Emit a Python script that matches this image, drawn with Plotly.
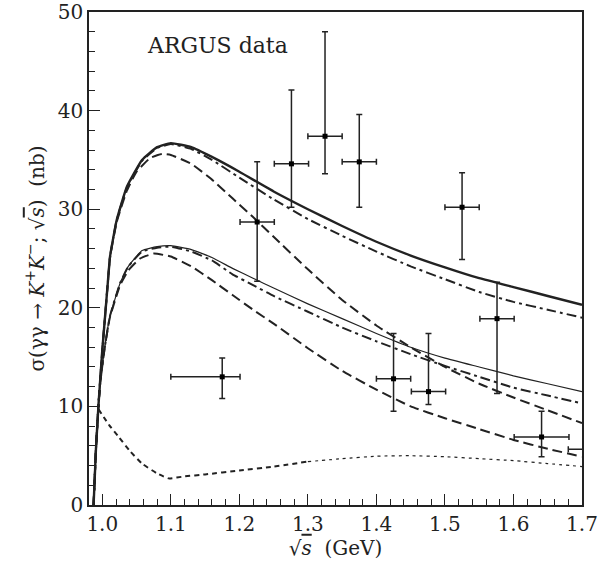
import plotly.graph_objects as go

# ARGUS data points
pt_x = [1.175, 1.226, 1.276, 1.325, 1.375, 1.425, 1.476, 1.525, 1.576, 1.641, 1.72]
pt_y = [13.0, 28.7, 34.6, 37.4, 34.8, 12.8, 11.5, 30.2, 18.9, 6.9, 5.65]
err_x_plus = [0.026, 0.025, 0.025, 0.025, 0.025, 0.025, 0.025, 0.025, 0.025, 0.04, 0.04]
err_x_minus = [0.075, 0.025, 0.025, 0.025, 0.025, 0.025, 0.025, 0.025, 0.025, 0.04, 0.04]
err_y_plus = [1.9, 6.1, 7.5, 10.6, 4.8, 4.6, 5.9, 3.5, 3.7, 2.6, 1.5]
err_y_minus = [2.2, 6.0, 4.4, 3.8, 4.6, 3.3, 1.3, 5.3, 7.6, 2.0, 1.5]

# upper group of curves
x_up = [0.9873, 0.9907, 0.9946, 1.0, 1.004, 1.008, 1.0113, 1.021, 1.036, 1.058, 1.08, 1.1,
        1.13, 1.16, 1.2, 1.25, 1.3, 1.35, 1.4, 1.45, 1.5, 1.55, 1.6, 1.65, 1.7]
solid_up = [0, 5.6, 10.3, 15.7, 19.1, 22.5, 25.2, 28.9, 32.3, 35.0, 36.3, 36.7,
            36.3, 35.3, 33.8, 31.8, 30.0, 28.3, 26.7, 25.3, 24.1, 23.0, 22.1, 21.2, 20.3]
dashdot_up = [0, 5.6, 10.3, 15.7, 19.1, 22.5, 25.2, 28.9, 32.2, 34.9, 36.2, 36.6,
              36.1, 35.0, 33.2, 31.0, 29.0, 27.3, 25.7, 24.2, 22.9, 21.6, 20.6, 19.8, 19.0]
x_up_dash = [0.9873, 0.9907, 0.9946, 1.0, 1.004, 1.008, 1.0113, 1.021, 1.036, 1.05, 1.07,
             1.087, 1.1, 1.13, 1.16, 1.19, 1.22, 1.25, 1.3, 1.35, 1.4, 1.45, 1.5, 1.55,
             1.6, 1.65, 1.7]
dash_up = [0, 5.6, 10.3, 15.7, 19.1, 22.5, 25.1, 28.7, 31.9, 33.8, 35.2, 35.6, 35.5,
           34.6, 33.0, 31.1, 29.2, 27.2, 23.9, 20.8, 18.2, 16.0, 14.0, 12.3, 10.9, 9.6, 8.3]

# lower group of curves
x_lo = [0.9873, 0.9907, 0.9946, 0.997, 1.003, 1.011, 1.026, 1.038, 1.058, 1.08, 1.1,
        1.13, 1.16, 1.19, 1.22, 1.25, 1.3, 1.35, 1.4, 1.45, 1.5, 1.55, 1.6, 1.65, 1.7]
solid_lo = [0, 5.6, 10.3, 12.4, 15.7, 19.1, 22.5, 24.2, 25.8, 26.2, 26.3,
            25.9, 25.1, 24.0, 23.0, 22.0, 20.4, 18.9, 17.4, 16.0, 14.9, 14.0, 13.1, 12.3, 11.5]
dashdot_lo = [0, 5.6, 10.3, 12.4, 15.7, 19.1, 22.5, 24.2, 25.7, 26.1, 26.2,
              25.7, 24.8, 23.4, 22.3, 21.2, 19.6, 18.0, 16.6, 15.3, 14.1, 13.0, 11.9, 11.1, 10.3]
x_lo_dash = [0.9873, 0.9907, 0.9946, 0.997, 1.003, 1.011, 1.026, 1.038, 1.055, 1.075, 1.1,
             1.13, 1.16, 1.19, 1.22, 1.25, 1.3, 1.35, 1.4, 1.45, 1.5, 1.55, 1.6, 1.65, 1.7]
dash_lo = [0, 5.6, 10.3, 12.4, 15.7, 19.0, 22.3, 23.8, 25.0, 25.5, 25.2,
           24.2, 22.8, 21.3, 19.8, 18.4, 15.9, 13.6, 11.7, 10.0, 8.8, 7.7, 6.6, 5.7, 4.9]

# bottom curve
x_bg = [0.9946, 1.01, 1.024, 1.04, 1.058, 1.08, 1.097, 1.12, 1.15, 1.2, 1.25, 1.3]
bg = [9.7, 8.1, 6.9, 5.5, 4.2, 3.2, 2.7, 2.9, 3.1, 3.5, 3.9, 4.4]
x_bg2 = [1.3, 1.35, 1.4, 1.45, 1.5, 1.55, 1.6, 1.65, 1.7]
bg2 = [4.4, 4.7, 4.95, 5.0, 4.9, 4.7, 4.5, 4.2, 3.9]

ink = '#222222'
serif = 'DejaVu Serif'
DASH = '10px,5px'
DASHDOT = '10px,4px,3px,4px'

fig = go.Figure()

def curve(x, y, width, dash):
    fig.add_trace(go.Scatter(x=x, y=y, mode='lines',
                             line=dict(color=ink, width=width, dash=dash,
                                       shape='spline', smoothing=0.4)))

curve(x_up, solid_up, 2.4, 'solid')
curve(x_up, dashdot_up, 2.0, DASHDOT)
curve(x_up_dash, dash_up, 2.0, DASH)
curve(x_lo, solid_lo, 1.2, 'solid')
curve(x_lo, dashdot_lo, 2.0, DASHDOT)
curve(x_lo_dash, dash_lo, 2.0, DASH)
curve(x_bg, bg, 2.0, '5px,4px')
curve(x_bg2, bg2, 1.2, '3px,4px')

fig.add_trace(go.Scatter(
    x=pt_x, y=pt_y, mode='markers',
    marker=dict(symbol='square', size=5, color='black'),
    error_x=dict(type='data', symmetric=False, array=err_x_plus, arrayminus=err_x_minus,
                 color=ink, thickness=1.5, width=3),
    error_y=dict(type='data', symmetric=False, array=err_y_plus, arrayminus=err_y_minus,
                 color=ink, thickness=1.5, width=3)))

fig.add_annotation(x=1.062, y=46.6, text='ARGUS data', showarrow=False, xanchor='left',
                   font=dict(family=serif, size=22, color=ink))

axis_font = dict(family=serif, size=20, color=ink)
fig.update_layout(
    width=598, height=574,
    margin=dict(l=89, r=16, t=12, b=69),
    paper_bgcolor='white', plot_bgcolor='white',
    showlegend=False,
    font=axis_font,
    xaxis=dict(range=[0.9806, 1.7], tick0=1.0, dtick=0.1, tickformat='.1f',
               automargin=False,
               ticks='inside', ticklen=11, tickwidth=1.3, tickcolor=ink,
               minor=dict(dtick=0.02, ticks='inside', ticklen=6, tickwidth=1.3, tickcolor=ink),
               showline=True, linewidth=1.5, linecolor=ink, mirror=True,
               showgrid=False, zeroline=False, tickfont=axis_font,
               title=dict(text="√<span style='text-decoration:overline'><i>s</i></span>  (GeV)",
                          font=dict(family=serif, size=20, color=ink), standoff=6)),
    yaxis=dict(range=[0, 50], dtick=10, automargin=False,
               ticks='inside', ticklen=11, tickwidth=1.3, tickcolor=ink,
               minor=dict(dtick=2, ticks='inside', ticklen=6, tickwidth=1.3, tickcolor=ink),
               showline=True, linewidth=1.5, linecolor=ink, mirror=True,
               showgrid=False, zeroline=False, tickfont=axis_font,
               title=dict(text="σ(γγ → <i>K</i><sup>+</sup><i>K</i><sup>−</sup>; √<span style='text-decoration:overline'><i>s</i></span>)  (nb)",
                          font=dict(family=serif, size=20, color=ink), standoff=8)),
)

fig.write_html("out.html", config={'displayModeBar': False},
               post_script="document.body.style.margin='0';")
